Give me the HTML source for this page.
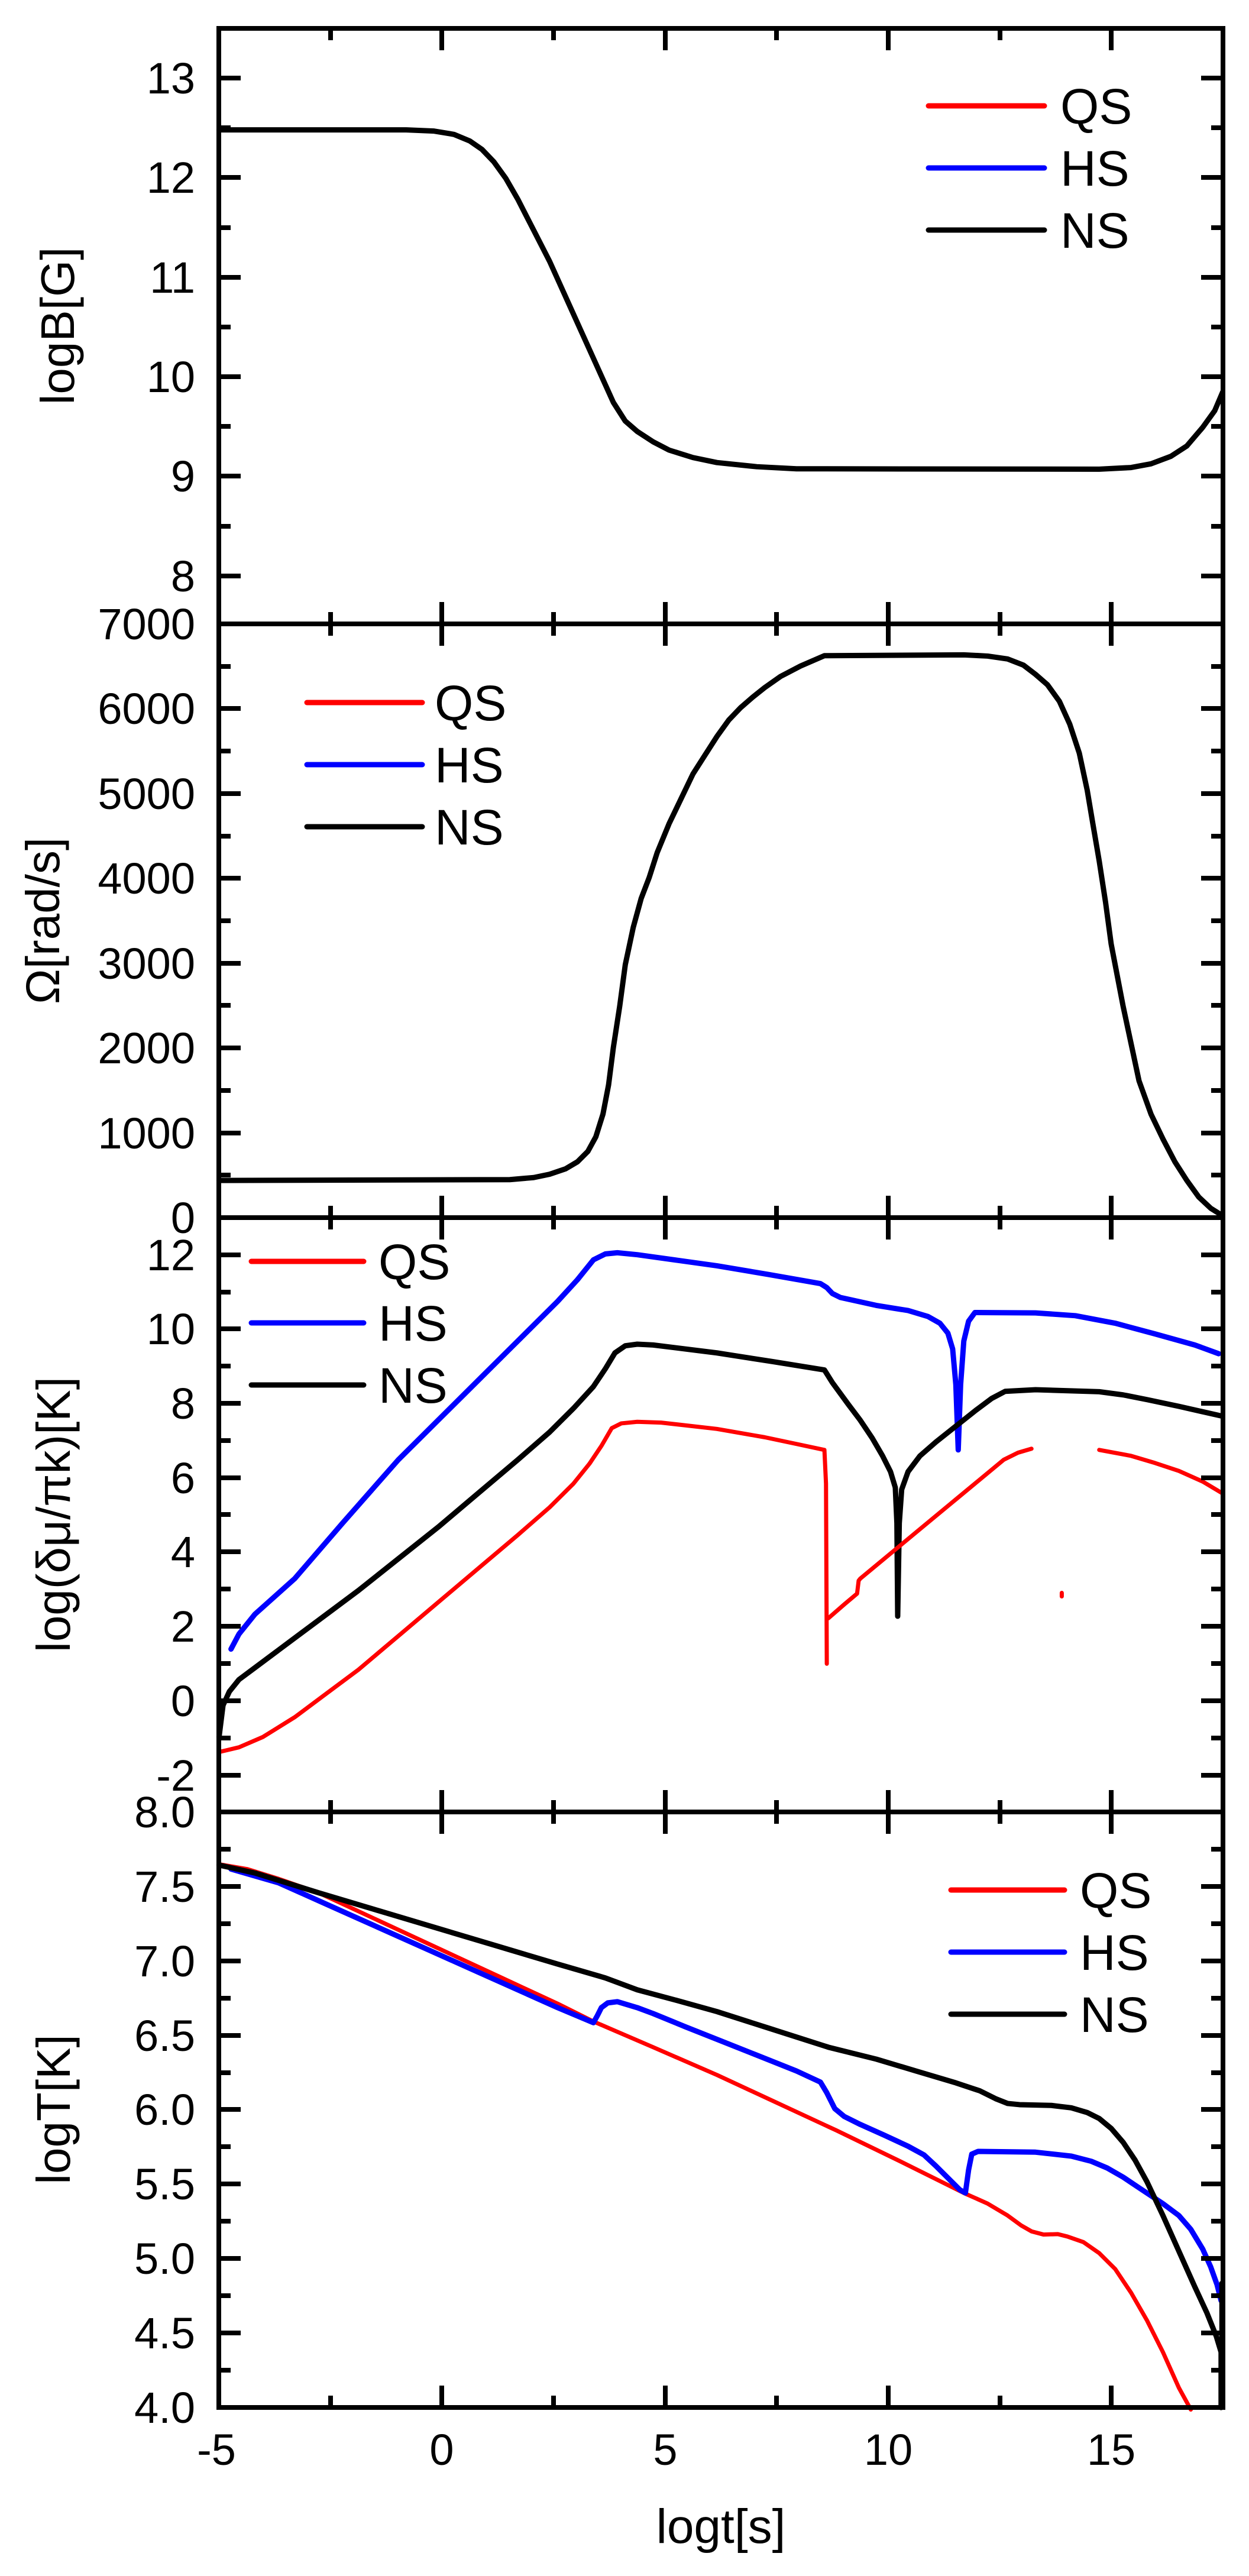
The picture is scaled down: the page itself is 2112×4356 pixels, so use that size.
<!DOCTYPE html>
<html><head><meta charset="utf-8"><style>
html,body{margin:0;padding:0;background:#fff;}
svg{display:block;}
text{font-family:"Liberation Sans",Arial,sans-serif;fill:#000;}
</style></head><body>
<svg width="2112" height="4356" viewBox="0 0 2112 4356" xmlns="http://www.w3.org/2000/svg">
<g fill="none" stroke-linejoin="round" stroke-linecap="round">
<!-- Panel 1 -->
<g transform="scale(1.3469,0.7015)">
<path vector-effect="non-scaling-stroke" stroke="#000" stroke-width="9" d="M275,313 L510,313 L545,316 L570,324 L590,340 L605,360 L620,390 L635,430 L650,480 L670,555 L690,630 L710,715 L730,800 L750,885 L770,970 L785,1015 L800,1040 L820,1065 L840,1085 L870,1103 L900,1115 L950,1125 L1000,1130 L1380,1131 L1420,1127 L1445,1118 L1470,1100 L1490,1075 L1510,1030 L1525,990 L1535,945"/>
</g>
<!-- Panel 2 -->
<g transform="translate(0,1000) scale(1.3469,0.7015)">
<path vector-effect="non-scaling-stroke" stroke="#000" stroke-width="9" d="M275,1420 L640,1418 L670,1413 L690,1405 L710,1392 L725,1375 L738,1350 L748,1315 L757,1260 L764,1190 L770,1100 L778,1000 L785,900 L795,810 L805,740 L815,690 L825,630 L840,560 L855,500 L870,440 L885,395 L900,350 L915,310 L930,280 L945,255 L960,232 L980,205 L1005,180 L1035,155 L1210,153 L1240,156 L1265,163 L1285,178 L1300,200 L1315,225 L1330,265 L1343,320 L1355,390 L1365,480 L1372,560 L1380,650 L1388,750 L1395,850 L1403,930 L1410,1000 L1420,1090 L1430,1180 L1445,1260 L1460,1320 L1475,1375 L1490,1420 L1505,1460 L1520,1487 L1535,1505"/>
</g>
<!-- Panel 3 -->
<g transform="translate(0,2040) scale(1.3469,0.6696)">
<path vector-effect="non-scaling-stroke" stroke="#00f" stroke-width="9" d="M290,1118 L300,1080 L320,1030 L345,985 L370,940 L400,870 L430,800 L465,720 L500,640 L550,540 L600,440 L650,340 L700,240 L725,185 L745,135 L760,120 L775,117 L800,122 L850,136 L900,150 L965,172 L1030,195 L1038,205 L1045,220 L1055,230 L1100,250 L1140,263 L1165,278 L1180,295 L1190,320 L1196,360 L1200,450 L1203,615 L1206,450 L1210,340 L1216,290 L1224,268 L1300,269 L1350,276 L1400,295 L1450,322 L1500,350 L1530,372"/>
<path vector-effect="non-scaling-stroke" stroke="#000" stroke-width="9" d="M275,1340 L280,1260 L288,1225 L300,1195 L320,1165 L350,1120 L400,1045 L450,970 L500,890 L550,810 L600,725 L650,640 L690,570 L720,510 L745,455 L760,410 L772,370 L785,352 L800,348 L820,350 L900,370 L970,392 L1035,413 L1045,445 L1065,500 L1080,540 L1095,585 L1108,630 L1118,670 L1124,710 L1126,800 L1127,1035 L1129,800 L1132,715 L1140,670 L1155,630 L1175,595 L1200,555 L1225,515 L1245,485 L1262,467 L1300,463 L1380,468 L1410,476 L1440,488 L1480,505 L1535,530"/>
<path vector-effect="non-scaling-stroke" stroke="#f00" stroke-width="7" d="M275,1378 L300,1366 L330,1340 L370,1290 L410,1230 L450,1170 L500,1085 L550,1000 L600,915 L650,830 L690,760 L720,700 L740,650 L755,605 L768,560 L780,548 L800,544 L830,546 L900,562 L960,583 L1000,600 L1035,615 L1037,700 L1038,1155"/>
<path vector-effect="non-scaling-stroke" stroke="#f00" stroke-width="7" d="M1040,1040 L1060,1005 L1076,978 L1078,945 L1080,940 L1110,890 L1140,840 L1170,790 L1200,740 L1230,690 L1260,640 L1278,622 L1295,612"/>
<path vector-effect="non-scaling-stroke" stroke="#f00" stroke-width="7" d="M1380,615 L1420,630 L1450,648 L1480,668 L1510,695 L1535,725"/>
<path vector-effect="non-scaling-stroke" stroke="#f00" stroke-width="7" d="M1333,976 L1333,985"/>
</g>
<!-- Panel 4 -->
<g transform="translate(0,3040) scale(1.3469,0.6696)">
<path vector-effect="non-scaling-stroke" stroke="#f00" stroke-width="7" d="M275,168 L310,180 L350,205 L400,240 L475,310 L550,380 L625,450 L700,520 L745,565 L820,630 L900,700 L975,770 L1050,840 L1130,918 L1210,998 L1240,1025 L1265,1055 L1282,1080 L1295,1095 L1310,1103 L1328,1102 L1340,1108 L1360,1122 L1380,1150 L1400,1190 L1420,1250 L1440,1320 L1460,1400 L1480,1490 L1495,1545"/>
<path vector-effect="non-scaling-stroke" stroke="#00f" stroke-width="9" d="M290,180 L350,215 L400,260 L450,305 L500,350 L600,440 L700,530 L745,568 L750,550 L755,530 L763,518 L775,515 L800,530 L820,545 L860,578 L900,610 L950,650 L1000,690 L1030,718 L1038,745 L1048,785 L1060,805 L1080,825 L1110,852 L1140,880 L1160,902 L1175,930 L1190,960 L1205,990 L1212,998 L1216,940 L1220,900 L1228,893 L1300,895 L1345,905 L1370,918 L1390,935 L1410,958 L1430,985 L1460,1025 L1480,1055 L1495,1090 L1510,1140 L1520,1185 L1528,1230 L1533,1270"/>
<path vector-effect="non-scaling-stroke" stroke="#000" stroke-width="9" d="M275,170 L320,190 L400,240 L475,285 L550,330 L625,375 L700,420 L760,455 L780,470 L800,485 L850,512 L900,540 L970,585 L1040,630 L1100,660 L1150,690 L1200,720 L1230,740 L1250,760 L1265,772 L1280,775 L1320,777 L1345,783 L1365,795 L1380,810 L1395,835 L1410,870 L1425,915 L1440,970 L1460,1055 L1480,1145 L1500,1235 L1515,1300 L1527,1360 L1533,1400 L1533,1540"/>
<path vector-effect="non-scaling-stroke" stroke="#000" stroke-width="6" d="M1533,1225 L1533,1480"/>
</g>
</g>

<!-- Frame and ticks -->
<g stroke="#000" stroke-width="8" fill="none" stroke-linecap="butt">
<rect x="370" y="48" width="1698" height="4023"/>
<path d="M370,1055 H2068 M370,2059 H2068 M370,3064 H2068"/>
<path d="M747,48 V85 M1125,48 V85 M1502,48 V85 M1879,48 V85 M559,48 V68 M936,48 V68 M1313,48 V68 M1691,48 V68"/>
<path d="M747,1018 V1092 M1125,1018 V1092 M1502,1018 V1092 M1879,1018 V1092 M559,1035 V1075 M936,1035 V1075 M1313,1035 V1075 M1691,1035 V1075"/>
<path d="M747,2022 V2096 M1125,2022 V2096 M1502,2022 V2096 M1879,2022 V2096 M559,2039 V2079 M936,2039 V2079 M1313,2039 V2079 M1691,2039 V2079"/>
<path d="M747,3027 V3101 M1125,3027 V3101 M1502,3027 V3101 M1879,3027 V3101 M559,3044 V3084 M936,3044 V3084 M1313,3044 V3084 M1691,3044 V3084"/>
<path d="M747,4034 V4071 M1125,4034 V4071 M1502,4034 V4071 M1879,4034 V4071 M559,4051 V4071 M936,4051 V4071 M1313,4051 V4071 M1691,4051 V4071"/>
<path d="M370,132 H407 M370,300 H407 M370,469 H407 M370,637 H407 M370,805 H407 M370,974 H407 M370,216 H390 M370,385 H390 M370,553 H390 M370,721 H390 M370,890 H390"/>
<path d="M2068,132 H2031 M2068,300 H2031 M2068,469 H2031 M2068,637 H2031 M2068,805 H2031 M2068,974 H2031 M2068,216 H2048 M2068,385 H2048 M2068,553 H2048 M2068,721 H2048 M2068,890 H2048"/>
<path d="M370,1198 H407 M370,1342 H407 M370,1485 H407 M370,1629 H407 M370,1772 H407 M370,1916 H407 M370,1127 H390 M370,1270 H390 M370,1414 H390 M370,1557 H390 M370,1700 H390 M370,1844 H390 M370,1987 H390"/>
<path d="M2068,1198 H2031 M2068,1342 H2031 M2068,1485 H2031 M2068,1629 H2031 M2068,1772 H2031 M2068,1916 H2031 M2068,1127 H2048 M2068,1270 H2048 M2068,1414 H2048 M2068,1557 H2048 M2068,1700 H2048 M2068,1844 H2048 M2068,1987 H2048"/>
<path d="M370,2122 H407 M370,2247 H407 M370,2373 H407 M370,2499 H407 M370,2624 H407 M370,2750 H407 M370,2876 H407 M370,3002 H407 M370,2185 H390 M370,2310 H390 M370,2436 H390 M370,2561 H390 M370,2687 H390 M370,2813 H390 M370,2939 H390"/>
<path d="M2068,2122 H2031 M2068,2247 H2031 M2068,2373 H2031 M2068,2499 H2031 M2068,2624 H2031 M2068,2750 H2031 M2068,2876 H2031 M2068,3002 H2031 M2068,2185 H2048 M2068,2310 H2048 M2068,2436 H2048 M2068,2561 H2048 M2068,2687 H2048 M2068,2813 H2048 M2068,2939 H2048"/>
<path d="M370,3190 H407 M370,3316 H407 M370,3442 H407 M370,3567 H407 M370,3693 H407 M370,3819 H407 M370,3945 H407 M370,3127 H390 M370,3253 H390 M370,3379 H390 M370,3505 H390 M370,3630 H390 M370,3756 H390 M370,3882 H390 M370,4008 H390"/>
<path d="M2068,3190 H2031 M2068,3316 H2031 M2068,3442 H2031 M2068,3567 H2031 M2068,3693 H2031 M2068,3819 H2031 M2068,3945 H2031 M2068,3127 H2048 M2068,3253 H2048 M2068,3379 H2048 M2068,3505 H2048 M2068,3630 H2048 M2068,3756 H2048 M2068,3882 H2048 M2068,4008 H2048"/>
</g>

<!-- Tick labels -->
<g font-size="74" text-anchor="end">
<text x="330" y="158">13</text><text x="330" y="326">12</text><text x="330" y="495">11</text><text x="330" y="663">10</text><text x="330" y="831">9</text><text x="330" y="1000">8</text>
<text x="330" y="1081">7000</text><text x="330" y="1224">6000</text><text x="330" y="1368">5000</text><text x="330" y="1511">4000</text><text x="330" y="1655">3000</text><text x="330" y="1798">2000</text><text x="330" y="1942">1000</text><text x="330" y="2085">0</text>
<text x="330" y="2148">12</text><text x="330" y="2273">10</text><text x="330" y="2399">8</text><text x="330" y="2525">6</text><text x="330" y="2650">4</text><text x="330" y="2776">2</text><text x="330" y="2902">0</text><text x="330" y="3028">-2</text>
<text x="330" y="3090">8.0</text><text x="330" y="3216">7.5</text><text x="330" y="3342">7.0</text><text x="330" y="3468">6.5</text><text x="330" y="3593">6.0</text><text x="330" y="3719">5.5</text><text x="330" y="3845">5.0</text><text x="330" y="3971">4.5</text><text x="330" y="4097">4.0</text>
</g>
<g font-size="74" text-anchor="middle">
<text x="366" y="4168">-5</text><text x="747" y="4168">0</text><text x="1125" y="4168">5</text><text x="1502" y="4168">10</text><text x="1879" y="4168">15</text>
</g>
<text x="1219" y="4300" font-size="82" text-anchor="middle">logt[s]</text>

<g font-size="80" text-anchor="middle">
<text transform="translate(125,551) rotate(-90)">logB[G]</text>
<text transform="translate(100,1557) rotate(-90)">Ω[rad/s]</text>
<text transform="translate(118,2561) rotate(-90)">log(δμ/πk)[K]</text>
<text transform="translate(118,3567) rotate(-90)">logT[K]</text>
</g>

<g stroke-width="9" stroke-linecap="round">
<path stroke="#f00" d="M1570,179 H1766"/><path stroke="#00f" d="M1570,284 H1766"/><path stroke="#000" d="M1570,389 H1766"/>
<path stroke="#f00" d="M519,1188 H714"/><path stroke="#00f" d="M519,1293 H714"/><path stroke="#000" d="M519,1398 H714"/>
<path stroke="#f00" d="M425,2133 H615"/><path stroke="#00f" d="M425,2237 H615"/><path stroke="#000" d="M425,2342 H615"/>
<path stroke="#f00" d="M1608,3196 H1800"/><path stroke="#00f" d="M1608,3301 H1800"/><path stroke="#000" d="M1608,3406 H1800"/>
</g>
<g font-size="84">
<text x="1793" y="209">QS</text><text x="1793" y="314">HS</text><text x="1793" y="419">NS</text>
<text x="735" y="1218">QS</text><text x="735" y="1323">HS</text><text x="735" y="1428">NS</text>
<text x="640" y="2163">QS</text><text x="640" y="2267">HS</text><text x="640" y="2372">NS</text>
<text x="1826" y="3226">QS</text><text x="1826" y="3331">HS</text><text x="1826" y="3436">NS</text>
</g>
</svg>
</body></html>
